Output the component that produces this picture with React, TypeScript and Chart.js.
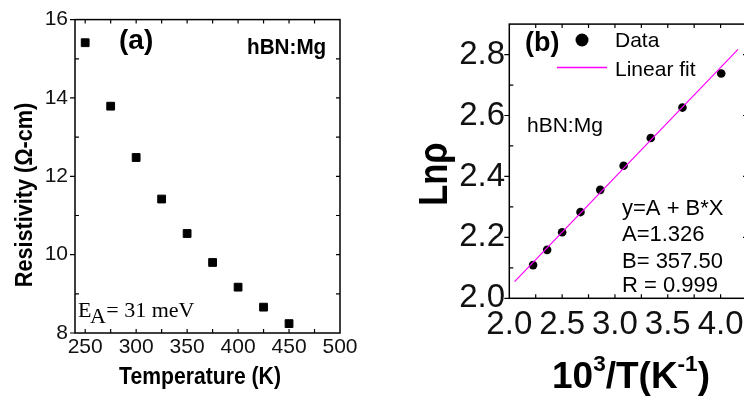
import React, { useEffect, useRef } from "react";
import { Chart, registerables } from "chart.js";

Chart.register(...registerables);

// ---------- data ----------
const temperatureK = [250, 275, 300, 325, 350, 375, 400, 425, 450];
const resistivity = [15.41, 13.79, 12.48, 11.42, 10.54, 9.8, 9.17, 8.66, 8.24];

const inverseT = [2.225, 2.358, 2.5, 2.674, 2.861, 3.082, 3.339, 3.639, 4.006];
const lnRho = [2.109, 2.159, 2.217, 2.283, 2.356, 2.435, 2.526, 2.626, 2.738];

const fitX = [2.05, 4.165];
const fitY = [2.055, 2.817];

// axis ranges / ticks
const tempRange = [240, 500];
const tempStep = 50;
const tempMinor = 25;
const rhoRange = [8, 16];
const rhoStep = 2;
const rhoMinor = 1;

const invRange = [2.0, 4.25];
const invStep = 0.5;
const invMinor = 0.25;
const lnRange = [2.0, 2.9];
const lnStep = 0.2;
const lnMinor = 0.1;

const fitTexts = ["y=A + B*X", "A=1.326", "B= 357.50", "R = 0.999"];

const SANS = '"Liberation Sans", Arial, Helvetica, sans-serif';
const SERIF = '"Liberation Serif", "Times New Roman", Times, serif';
const MAGENTA = "#ff00ff";

type TextItem = {
  s: string;
  x: number;
  y: number;
  font: string;
  align?: CanvasTextAlign;
  sx?: number;
  rot?: number;
};

function drawText(ctx: CanvasRenderingContext2D, t: TextItem) {
  ctx.save();
  ctx.translate(t.x, t.y);
  if (t.rot) ctx.rotate(t.rot);
  if (t.sx) ctx.scale(t.sx, 1);
  ctx.font = t.font;
  ctx.fillStyle = "#000";
  ctx.textAlign = t.align || "left";
  ctx.textBaseline = "alphabetic";
  ctx.fillText(t.s, 0, 0);
  ctx.restore();
}

function framePlugin(o: {
  xMinor: number;
  yMinor: number;
  yMajor: number;
  rightMinor: boolean;
}) {
  return {
    id: "frameTicks",
    afterDatasetsDraw(chart: any) {
      const { ctx, chartArea } = chart;
      const { left, right, top, bottom } = chartArea;
      const xs = chart.scales.x;
      const ys = chart.scales.y;
      const L = 4;
      const OUT = 5;
      ctx.save();
      ctx.strokeStyle = "#000";
      ctx.lineWidth = 1.5;
      ctx.strokeRect(left, top, right - left, bottom - top);
      ctx.lineWidth = 1.2;
      ctx.beginPath();
      const xStart = Math.ceil(xs.min / o.xMinor - 1e-9);
      const xEnd = Math.floor(xs.max / o.xMinor + 1e-9);
      for (let i = xStart; i <= xEnd; i++) {
        const v = i * o.xMinor;
        const px = xs.getPixelForValue(v);
        if (px <= left + 1 || px >= right - 1) continue;
        ctx.moveTo(px, bottom);
        ctx.lineTo(px, bottom - L);
        ctx.moveTo(px, top);
        ctx.lineTo(px, top + L);
      }
      const yStart = Math.ceil(ys.min / o.yMinor - 1e-9);
      const yEnd = Math.floor(ys.max / o.yMinor + 1e-9);
      for (let i = yStart; i <= yEnd; i++) {
        const v = i * o.yMinor;
        const py = ys.getPixelForValue(v);
        const r = v / o.yMajor;
        const isMajor = Math.abs(r - Math.round(r)) < 1e-6;
        const isEdge = py <= top + 1 || py >= bottom - 1;
        if (isMajor) {
          ctx.moveTo(left - OUT, py);
          ctx.lineTo(left, py);
        } else if (!isEdge) {
          ctx.moveTo(left, py);
          ctx.lineTo(left + L, py);
        }
        if (!isEdge && (isMajor || o.rightMinor)) {
          ctx.moveTo(right, py);
          ctx.lineTo(right - L, py);
        }
      }
      ctx.stroke();
      ctx.restore();
    },
  };
}

function leftConfig(): any {
  const annotations = {
    id: "leftText",
    afterDraw(chart: any) {
      const ctx = chart.ctx as CanvasRenderingContext2D;
      const items: TextItem[] = [
        { s: "(a)", x: 119, y: 49, font: `bold 28px ${SANS}` },
        { s: "hBN:Mg", x: 247, y: 54, font: `bold 22px ${SANS}`, sx: 0.94 },
        {
          s: "Resistivity (\u03A9-cm)",
          x: 32,
          y: 195,
          font: `bold 23px ${SANS}`,
          align: "center",
          rot: -Math.PI / 2,
          sx: 0.94,
        },
        {
          s: "Temperature (K)",
          x: 200,
          y: 383.5,
          font: `bold 23px ${SANS}`,
          align: "center",
          sx: 0.92,
        },
      ];
      items.forEach((t) => drawText(ctx, t));
      // E_A = 31 meV (serif, subscript A)
      ctx.save();
      ctx.fillStyle = "#000";
      ctx.textBaseline = "alphabetic";
      ctx.textAlign = "left";
      ctx.font = `22px ${SERIF}`;
      let x = 78;
      ctx.fillText("E", x, 317);
      x += ctx.measureText("E").width - 1.5;
      ctx.fillText("A", x, 323);
      x += ctx.measureText("A").width + 0.5;
      ctx.fillText("= 31 meV", x, 317);
      ctx.restore();
    },
  };

  return {
    type: "scatter",
    data: {
      datasets: [
        {
          data: temperatureK.map((t, i) => ({ x: t, y: resistivity[i] })),
          pointStyle: "rect",
          pointRadius: 5.5,
          backgroundColor: "#000",
          borderColor: "#000",
          borderWidth: 1,
          showLine: false,
        },
      ],
    },
    options: {
      responsive: false,
      animation: false,
      events: [],
      layout: { padding: { top: 16, right: 32, left: 0, bottom: 0 } },
      plugins: { legend: { display: false }, tooltip: { enabled: false } },
      scales: {
        x: {
          type: "linear",
          min: tempRange[0],
          max: tempRange[1],
          afterFit: (s: any) => {
            s.height = 70;
          },
          grid: { display: false, drawTicks: false },
          border: { display: false },
          ticks: {
            stepSize: tempStep,
            includeBounds: false,
            autoSkip: false,
            maxRotation: 0,
            padding: 2,
            color: "#111",
            font: { family: SANS, size: 21 },
          },
        },
        y: {
          type: "linear",
          min: rhoRange[0],
          max: rhoRange[1],
          afterFit: (s: any) => {
            s.width = 75;
          },
          grid: { display: false, drawTicks: false },
          border: { display: false },
          ticks: {
            stepSize: rhoStep,
            includeBounds: false,
            autoSkip: false,
            padding: 7,
            color: "#111",
            font: { family: SANS, size: 21 },
          },
        },
      },
    },
    plugins: [
      framePlugin({ xMinor: tempMinor, yMinor: rhoMinor, yMajor: rhoStep, rightMinor: true }),
      annotations,
    ],
  };
}

const RIGHT_OFFSET = 372;

function rightConfig(): any {
  const annotations = {
    id: "rightText",
    afterDraw(chart: any) {
      const ctx = chart.ctx as CanvasRenderingContext2D;
      const X = (px: number) => px - RIGHT_OFFSET;
      const items: TextItem[] = [
        { s: "(b)", x: X(525), y: 51, font: `bold 27px ${SANS}` },
        { s: "Data", x: X(615), y: 47, font: `21px ${SANS}` },
        { s: "Linear fit", x: X(615), y: 76, font: `21px ${SANS}` },
        { s: "hBN:Mg", x: X(527), y: 131.5, font: `21px ${SANS}` },
        {
          s: "Ln\u03C1",
          x: X(447),
          y: 174,
          font: `bold 40px ${SANS}`,
          align: "center",
          rot: -Math.PI / 2,
          sx: 0.86,
        },
      ];
      const fitBaselines = [215, 241, 268, 292];
      fitTexts.forEach((s, i) =>
        items.push({ s, x: X(622), y: fitBaselines[i], font: `22px ${SANS}` })
      );
      items.forEach((t) => drawText(ctx, t));

      // legend symbols
      ctx.save();
      ctx.fillStyle = "#000";
      ctx.beginPath();
      ctx.arc(X(582), 40, 6.5, 0, Math.PI * 2);
      ctx.fill();
      ctx.strokeStyle = MAGENTA;
      ctx.lineWidth = 1.3;
      ctx.beginPath();
      ctx.moveTo(X(557), 67.5);
      ctx.lineTo(X(607), 67.5);
      ctx.stroke();
      ctx.restore();

      // x axis title 10^3/T(K^-1)
      ctx.save();
      ctx.fillStyle = "#000";
      ctx.textBaseline = "alphabetic";
      ctx.textAlign = "left";
      const big = `bold 36px ${SANS}`;
      const small = `bold 22px ${SANS}`;
      const parts: [string, string, number][] = [
        ["10", big, 0],
        ["3", small, -17.5],
        ["/T(K", big, 0],
        ["-1", small, -17.5],
        [")", big, 0],
      ];
      let total = 0;
      parts.forEach(([s, f]) => {
        ctx.font = f;
        total += ctx.measureText(s).width;
      });
      const target = 158;
      const sx = target / total;
      ctx.translate(X(552), 388);
      ctx.scale(sx, 1);
      let x = 0;
      parts.forEach(([s, f, dy]) => {
        ctx.font = f;
        ctx.fillText(s, x, dy);
        x += ctx.measureText(s).width;
      });
      ctx.restore();
    },
  };

  return {
    type: "scatter",
    data: {
      datasets: [
        {
          type: "line",
          data: fitX.map((x, i) => ({ x, y: fitY[i] })),
          borderColor: MAGENTA,
          borderWidth: 1.2,
          pointRadius: 0,
          fill: false,
          order: 0,
        },
        {
          data: inverseT.map((x, i) => ({ x, y: lnRho[i] })),
          pointStyle: "circle",
          pointRadius: 4.3,
          backgroundColor: "#000",
          borderColor: "#000",
          borderWidth: 0,
          showLine: false,
          order: 1,
        },
      ],
    },
    options: {
      responsive: false,
      animation: false,
      events: [],
      layout: { padding: { top: 16.7, right: 25, left: 0, bottom: 0 } },
      plugins: { legend: { display: false }, tooltip: { enabled: false } },
      scales: {
        x: {
          type: "linear",
          min: invRange[0],
          max: invRange[1],
          afterFit: (s: any) => {
            s.height = 104.7;
          },
          grid: { display: false, drawTicks: false },
          border: { display: false },
          ticks: {
            stepSize: invStep,
            includeBounds: false,
            autoSkip: false,
            maxRotation: 0,
            padding: 7,
            color: "#111",
            font: { family: SANS, size: 33 },
            callback: (v: any) => Number(v).toFixed(1),
          },
        },
        y: {
          type: "linear",
          min: lnRange[0],
          max: lnRange[1],
          afterFit: (s: any) => {
            s.width = 137.3;
          },
          grid: { display: false, drawTicks: false },
          border: { display: false },
          ticks: {
            stepSize: lnStep,
            includeBounds: false,
            autoSkip: false,
            padding: 4.3,
            color: "#111",
            font: { family: SANS, size: 33 },
            callback: (v: any) => Number(v).toFixed(1),
          },
        },
      },
    },
    plugins: [
      framePlugin({ xMinor: invMinor, yMinor: lnMinor, yMajor: lnStep, rightMinor: false }),
      annotations,
    ],
  };
}

export default function App() {
  const leftRef = useRef<HTMLCanvasElement>(null);
  const rightRef = useRef<HTMLCanvasElement>(null);

  useEffect(() => {
    const c1 = new Chart(leftRef.current as HTMLCanvasElement, leftConfig());
    const c2 = new Chart(rightRef.current as HTMLCanvasElement, rightConfig());
    return () => {
      c1.destroy();
      c2.destroy();
    };
  }, []);

  return (
    <div
      style={{
        position: "fixed",
        left: 0,
        top: 0,
        width: 744,
        height: 403,
        overflow: "hidden",
        background: "#fff",
      }}
    >
      <canvas
        ref={leftRef}
        width={372}
        height={403}
        style={{ position: "absolute", left: 0, top: 0, width: 372, height: 403 }}
      />
      <canvas
        ref={rightRef}
        width={400}
        height={403}
        style={{ position: "absolute", left: RIGHT_OFFSET, top: 0, width: 400, height: 403 }}
      />
    </div>
  );
}
